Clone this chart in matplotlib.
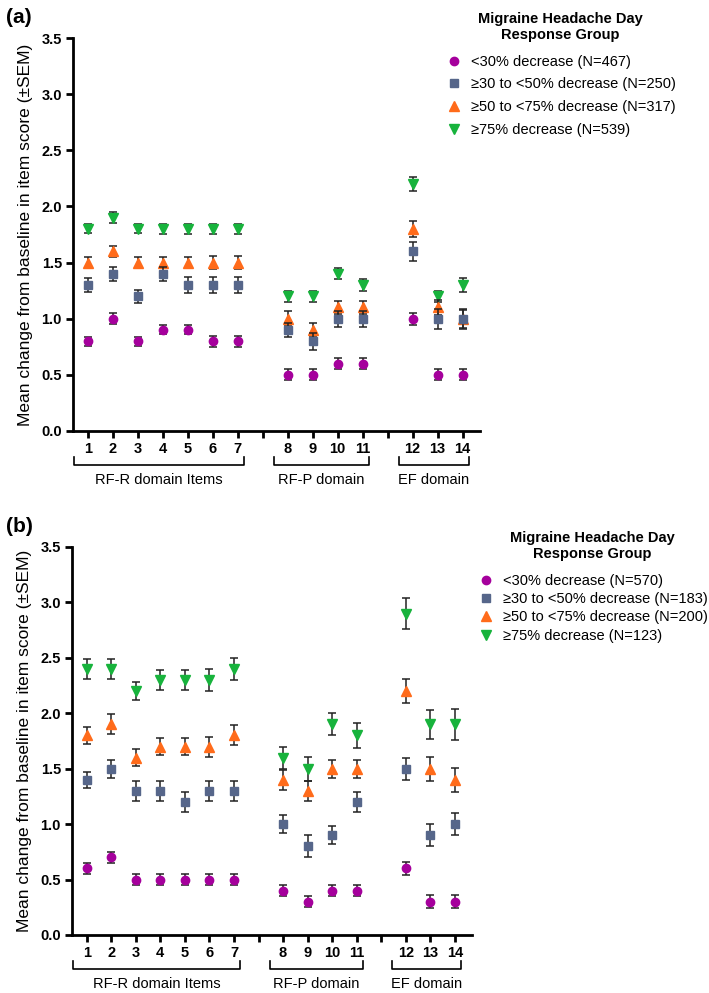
import matplotlib
matplotlib.use("Agg")
import matplotlib.pyplot as plt
from matplotlib.lines import Line2D
from matplotlib.transforms import blended_transform_factory

plt.rcParams['font.family'] = ['Liberation Sans', 'DejaVu Sans']

# item numbers and where they sit on the x axis (gaps between domains)
items = [1, 2, 3, 4, 5, 6, 7, 8, 9, 10, 11, 12, 13, 14]
xpos = [1, 2, 3, 4, 5, 6, 7, 9, 10, 11, 12, 14, 15, 16]
tick_pos = list(range(1, 17))
tick_labels = ['1', '2', '3', '4', '5', '6', '7', '', '8', '9', '10', '11', '', '12', '13', '14']
domains = ['RF-R domain Items', 'RF-P domain', 'EF domain']
domain_items = [(1, 7), (8, 11), (12, 14)]

group_names = ['<30% decrease', '\u226530 to <50% decrease', '\u226550 to <75% decrease', '\u226575% decrease']
n_a = [467, 250, 317, 539]
n_b = [570, 183, 200, 123]

# panel (a)
a_lt30 = [0.8, 1.0, 0.8, 0.9, 0.9, 0.8, 0.8, 0.5, 0.5, 0.6, 0.6, 1.0, 0.5, 0.5]
a_lt30_err = [0.04, 0.05, 0.04, 0.04, 0.04, 0.05, 0.05, 0.05, 0.05, 0.05, 0.05, 0.055, 0.05, 0.05]
a_30_50 = [1.3, 1.4, 1.2, 1.4, 1.3, 1.3, 1.3, 0.9, 0.8, 1.0, 1.0, 1.6, 1.0, 1.0]
a_30_50_err = [0.06, 0.06, 0.06, 0.06, 0.07, 0.07, 0.07, 0.06, 0.075, 0.07, 0.07, 0.086, 0.09, 0.09]
a_50_75 = [1.5, 1.6, 1.5, 1.5, 1.5, 1.5, 1.5, 1.0, 0.9, 1.1, 1.1, 1.8, 1.1, 1.0]
a_50_75_err = [0.05, 0.05, 0.05, 0.05, 0.05, 0.06, 0.06, 0.065, 0.06, 0.06, 0.06, 0.07, 0.07, 0.08]
a_ge75 = [1.8, 1.9, 1.8, 1.8, 1.8, 1.8, 1.8, 1.2, 1.2, 1.4, 1.3, 2.2, 1.2, 1.3]
a_ge75_err = [0.04, 0.05, 0.04, 0.045, 0.045, 0.045, 0.045, 0.05, 0.05, 0.05, 0.05, 0.06, 0.05, 0.06]

# panel (b)
b_lt30 = [0.6, 0.7, 0.5, 0.5, 0.5, 0.5, 0.5, 0.4, 0.3, 0.4, 0.4, 0.6, 0.3, 0.3]
b_lt30_err = [0.05, 0.05, 0.05, 0.05, 0.05, 0.05, 0.05, 0.05, 0.05, 0.05, 0.05, 0.06, 0.06, 0.06]
b_30_50 = [1.4, 1.5, 1.3, 1.3, 1.2, 1.3, 1.3, 1.0, 0.8, 0.9, 1.2, 1.5, 0.9, 1.0]
b_30_50_err = [0.07, 0.08, 0.09, 0.09, 0.09, 0.09, 0.09, 0.08, 0.1, 0.08, 0.09, 0.1, 0.1, 0.1]
b_50_75 = [1.8, 1.9, 1.6, 1.7, 1.7, 1.7, 1.8, 1.4, 1.3, 1.5, 1.5, 2.2, 1.5, 1.4]
b_50_75_err = [0.08, 0.09, 0.08, 0.08, 0.08, 0.09, 0.09, 0.09, 0.09, 0.08, 0.08, 0.11, 0.11, 0.11]
b_ge75 = [2.4, 2.4, 2.2, 2.3, 2.3, 2.3, 2.4, 1.6, 1.5, 1.9, 1.8, 2.9, 1.9, 1.9]
b_ge75_err = [0.09, 0.09, 0.08, 0.09, 0.09, 0.1, 0.1, 0.1, 0.11, 0.1, 0.11, 0.14, 0.13, 0.14]

colors = ['#A5009C', '#56668A', '#FF6B1A', '#17B33C']
markers = ['o', 's', '^', 'v']
msizes = [6, 6, 7, 7]


def draw_panel(ax, series, errs, ns, letter, leg_anchor, leg_space):
    ax.set_xlim(0.4, 16.7)
    ax.set_ylim(0, 3.5)
    # later groups first so the lower groups sit on top, like the original
    for k in [3, 2, 1, 0]:
        ax.errorbar(xpos, series[k], yerr=errs[k], fmt=markers[k], color=colors[k],
                    ms=msizes[k], mec=colors[k], ecolor='#222222', elinewidth=1.1,
                    capsize=2.8, capthick=1.1, zorder=3 + (3 - k))
    for s in ['top', 'right']:
        ax.spines[s].set_visible(False)
    for s in ['left', 'bottom']:
        ax.spines[s].set_linewidth(2.0)
    ax.set_yticks([0, 0.5, 1.0, 1.5, 2.0, 2.5, 3.0, 3.5])
    ax.set_yticklabels(['0.0', '0.5', '1.0', '1.5', '2.0', '2.5', '3.0', '3.5'])
    ax.set_xticks(tick_pos)
    ax.set_xticklabels(tick_labels)
    ax.tick_params(axis='both', width=2.0, length=5, labelsize=10.5, pad=3)
    for lab in ax.get_xticklabels() + ax.get_yticklabels():
        lab.set_fontweight('bold')
    ax.set_ylabel('Mean change from baseline in item score (\u00b1SEM)', fontsize=12.5, labelpad=6)

    # domain brackets under the axis
    tr = blended_transform_factory(ax.transData, ax.transAxes)
    h = ax.get_position().height * fig.get_figheight() * 100
    yb = -34 / h
    yt = -26 / h
    for name, (i0, i1) in zip(domains, domain_items):
        x0 = xpos[items.index(i0)] - 0.55
        x1 = xpos[items.index(i1)] + 0.25
        ax.plot([x0, x0, x1, x1], [yt, yb, yb, yt], color='black', lw=1.2,
                transform=tr, clip_on=False)
        ax.text((x0 + x1) / 2, -49 / h, name, transform=tr, ha='center', va='center',
                fontsize=10.5)

    fig.text(0.008, ax.get_position().y1 + leg_space[2], letter, fontsize=15,
             fontweight='bold', va='center')

    handles = [Line2D([], [], marker=markers[k], color=colors[k], ls='none', ms=msizes[k])
               for k in range(4)]
    labels = ['%s (N=%d)' % (group_names[k], ns[k]) for k in range(4)]
    leg = fig.legend(handles, labels, loc='upper left', bbox_to_anchor=leg_anchor,
                     frameon=False, fontsize=10.5,
                     title='Migraine Headache Day\nResponse Group',
                     title_fontproperties={'weight': 'bold', 'size': 10.5},
                     handletextpad=0.6, labelspacing=leg_space[0], handlelength=1.2,
                     borderaxespad=0, borderpad=0, alignment='center')
    leg.get_title().set_multialignment('center')
    leg._legend_box.sep = leg_space[1]
    return leg


fig = plt.figure(figsize=(7.09, 9.93), dpi=100)
W, H = 709, 993
ax_a = fig.add_axes([73 / W, 1 - 431 / H, (480 - 73) / W, (431 - 38) / H])
ax_b = fig.add_axes([72 / W, 1 - 935 / H, (472 - 72) / W, (935 - 547) / H])

draw_panel(ax_a, [a_lt30, a_30_50, a_50_75, a_ge75],
           [a_lt30_err, a_30_50_err, a_50_75_err, a_ge75_err], n_a, '(a)',
           (445 / W, 1 - 12 / H), (0.6, 9, 0.021))
draw_panel(ax_b, [b_lt30, b_30_50, b_50_75, b_ge75],
           [b_lt30_err, b_30_50_err, b_50_75_err, b_ge75_err], n_b, '(b)',
           (477 / W, 1 - 531 / H), (0.3, 9, 0.021))

fig.savefig('out.png', dpi=100)
